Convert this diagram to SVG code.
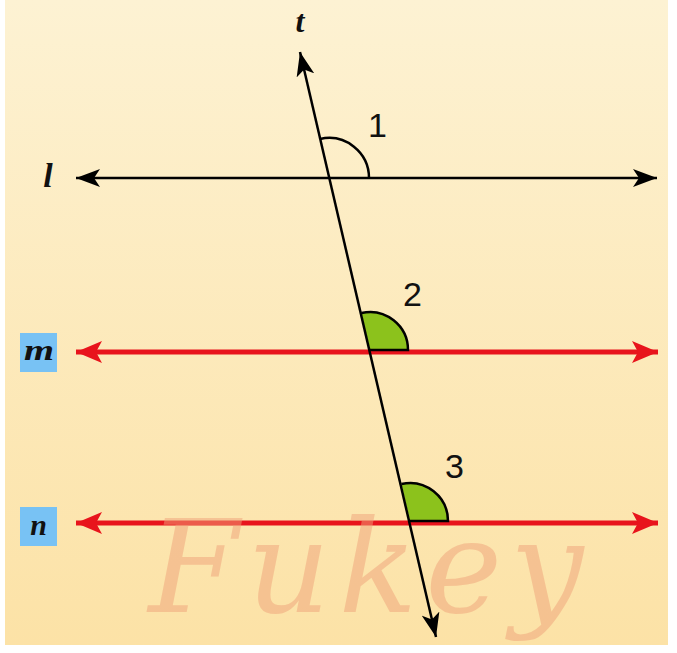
<svg xmlns="http://www.w3.org/2000/svg" width="677" height="653" viewBox="0 0 677 653">
  <defs>
    <linearGradient id="bg" x1="0" y1="0" x2="0" y2="1">
      <stop offset="0" stop-color="#fdf2d3"/>
      <stop offset="1" stop-color="#fce2a6"/>
    </linearGradient>
    <marker id="ab" viewBox="0 0 24 18" refX="24" refY="9" markerWidth="24" markerHeight="18" markerUnits="userSpaceOnUse" orient="auto-start-reverse">
      <path d="M0,0 L24,9 L0,18 L6,9 Z" fill="#000"/>
    </marker>
    <marker id="ar" viewBox="0 0 26 22" refX="26" refY="11" markerWidth="26" markerHeight="22" markerUnits="userSpaceOnUse" orient="auto-start-reverse">
      <path d="M0,0 L26,11 L0,22 L6,11 Z" fill="#e8141c"/>
    </marker>
  </defs>
  <style>
    .num { font-family: "Liberation Sans", Arial, sans-serif; font-size: 34px; fill: #111; }
    .var { font-family: "Liberation Serif", "Times New Roman", serif; font-style: italic; font-weight: bold; fill: #111; }
    .box { fill: #78c2f4; }
    .arc { fill: #8cc21c; stroke: #000; stroke-width: 2.5; }
  </style>
  <rect width="677" height="653" fill="#ffffff"/>
  <rect x="5" y="0" width="663" height="645" fill="url(#bg)"/>

  <g id="connectors">
    <line id="line-l" x1="76" y1="178" x2="657" y2="178" stroke="#000" stroke-width="2.5" marker-start="url(#ab)" marker-end="url(#ab)"/>
    <line id="line-m" x1="76" y1="352" x2="658" y2="352" stroke="#e8141c" stroke-width="5" marker-start="url(#ar)" marker-end="url(#ar)"/>
    <line id="line-n" x1="76" y1="523" x2="658" y2="523" stroke="#e8141c" stroke-width="5" marker-start="url(#ar)" marker-end="url(#ar)"/>
  </g>

  <g id="angle1">
    <path d="M369,178 A40,40 0 0 0 320,139" fill="none" stroke="#000" stroke-width="2.5"/>
    <text class="num" x="368" y="137">1</text>
  </g>
  <g id="angle2">
    <path d="M370,350 L408,350 A38,38 0 0 0 361.4,313" class="arc"/>
    <text class="num" x="403" y="306">2</text>
  </g>
  <g id="angle3">
    <path d="M410,521 L448,521 A38,38 0 0 0 401.4,484" class="arc"/>
    <text class="num" x="445" y="478">3</text>
  </g>

  <g id="line-t">
    <line x1="436" y1="637" x2="300" y2="52" stroke="#000" stroke-width="2.5" marker-start="url(#ab)" marker-end="url(#ab)"/>
    <text class="var" x="300" y="32" font-size="32" text-anchor="middle">t</text>
  </g>

  <g id="label-l">
    <text class="var" x="48" y="187" font-size="34" text-anchor="middle">l</text>
  </g>
  <g id="label-m">
    <rect class="box" x="20" y="333" width="37" height="39"/>
    <text class="var" x="24" y="360" font-size="30" textLength="30" lengthAdjust="spacingAndGlyphs">m</text>
  </g>
  <g id="label-n">
    <rect class="box" x="20" y="507" width="37" height="39"/>
    <text class="var" x="38.5" y="535" font-size="30" text-anchor="middle">n</text>
  </g>

  <g id="watermark" opacity="0.5">
    <text x="370" y="612" font-family="'DejaVu Serif', serif" font-style="italic" font-size="130" fill="#f0a27a" text-anchor="middle" letter-spacing="8">Fukey</text>
  </g>
</svg>
